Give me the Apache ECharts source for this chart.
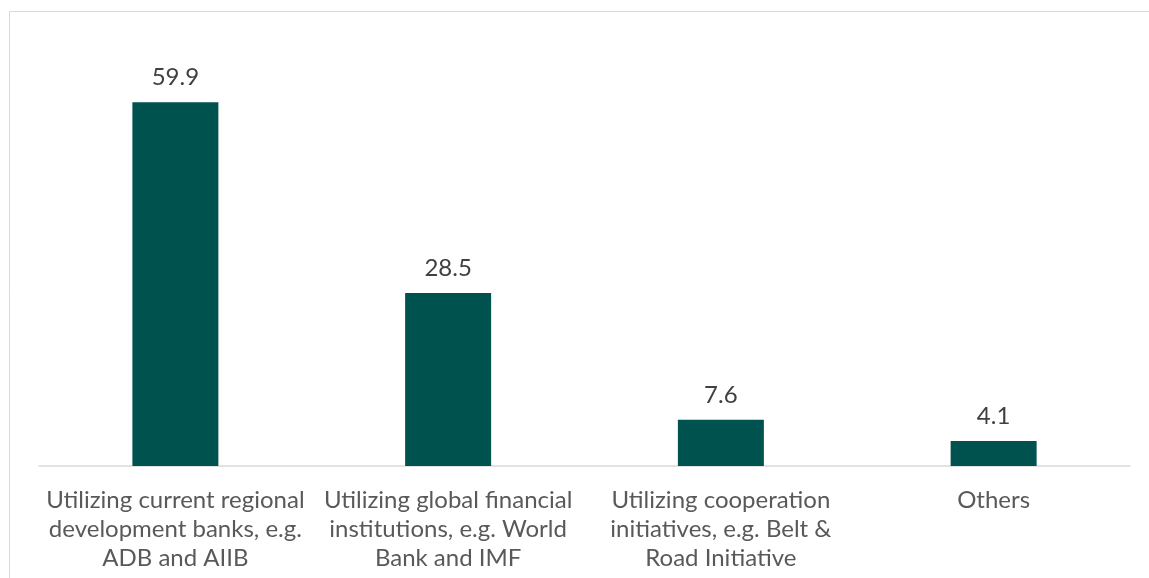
<!DOCTYPE html>
<html>
<head>
<meta charset="utf-8">
<style>
  html, body { margin: 0; padding: 0; background: #ffffff; }
  #chart { width: 1149px; height: 578px; }
</style>
<script src="https://cdn.jsdelivr.net/npm/echarts@6/dist/echarts.min.js"></script>
</head>
<body>
<div id="chart"></div>
<script>
// Financing channels (share, %)
const categories = [
  'Utilizing current regional\ndevelopment banks, e.g.\nADB and AIIB',
  'Utilizing global financial\ninstitutions, e.g. World\nBank and IMF',
  'Utilizing cooperation\ninitiatives, e.g. Belt &\nRoad Initiative',
  'Others'
];
const shares = [59.9, 28.5, 7.6, 4.1];

const chart = echarts.init(document.getElementById('chart'), null, { renderer: 'canvas' });

chart.setOption({
  animation: false,
  backgroundColor: '#ffffff',
  textStyle: { fontFamily: 'Lato, "Noto Sans", sans-serif' },
  graphic: [{
    type: 'rect',
    silent: true,
    shape: { x: 9.5, y: 11.5, width: 1200, height: 600 },
    style: { fill: 'none', stroke: '#d9d9d9', lineWidth: 1 }
  }],
  grid: { left: 39, right: 19, top: 41, bottom: 112, containLabel: false },
  xAxis: {
    type: 'category',
    data: categories,
    axisLine: { show: true, lineStyle: { color: '#d9d9d9', width: 1.5 } },
    axisTick: { show: false },
    axisLabel: {
      interval: 0,
      margin: 20,
      color: '#595959',
      fontSize: 24,
      lineHeight: 29,
      fontFamily: 'Lato, "Noto Sans", sans-serif',
      align: 'center'
    }
  },
  yAxis: {
    type: 'value',
    min: 0,
    max: 70,
    show: false,
    splitLine: { show: false }
  },
  series: [{
    type: 'bar',
    data: shares,
    barWidth: 86,
    itemStyle: { color: '#00524f' },
    label: {
      show: true,
      position: 'top',
      distance: 13,
      color: '#404040',
      fontSize: 24,
      fontFamily: 'Lato, "Noto Sans", sans-serif',
      formatter: (p) => p.value.toFixed(1)
    }
  }]
});
</script>
</body>
</html>
